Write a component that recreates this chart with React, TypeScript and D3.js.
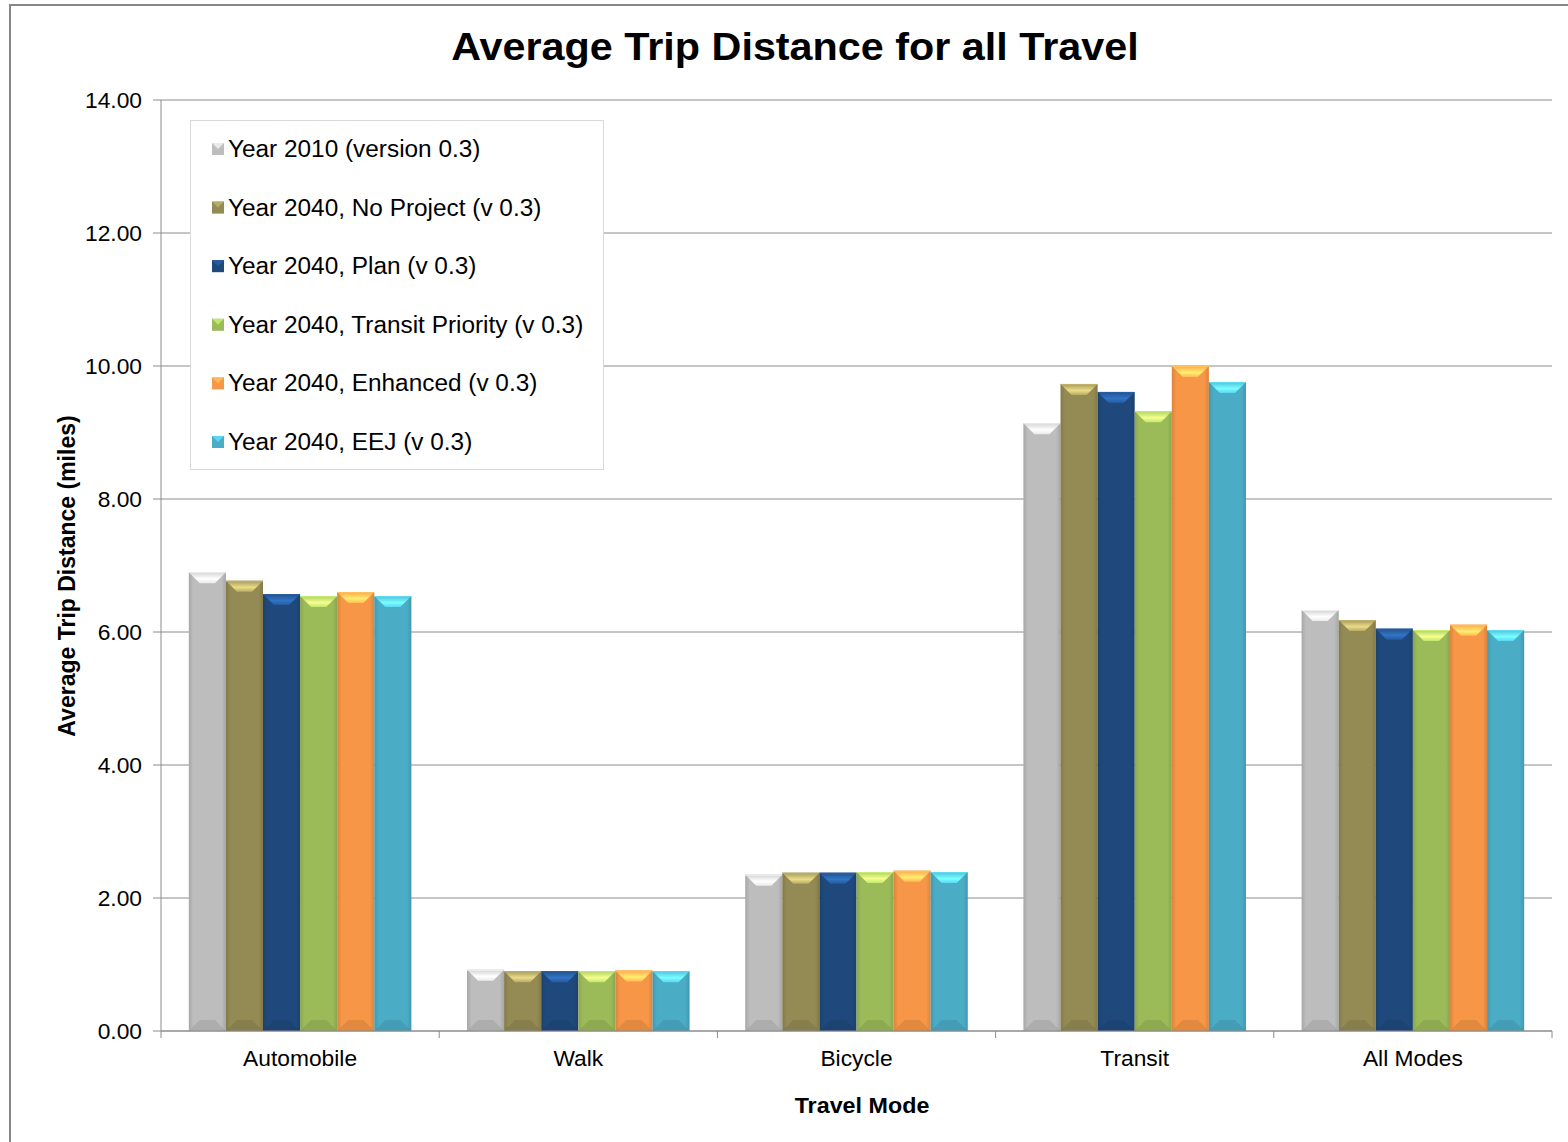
import React from 'react'
import * as d3 from 'd3'

const categories = ['Automobile', 'Walk', 'Bicycle', 'Transit', 'All Modes']
const seriesNames = [
  'Year 2010 (version 0.3)',
  'Year 2040, No Project (v 0.3)',
  'Year 2040, Plan (v 0.3)',
  'Year 2040, Transit Priority (v 0.3)',
  'Year 2040, Enhanced (v 0.3)',
  'Year 2040, EEJ (v 0.3)',
]
const seriesColors = ['#BDBDBD', '#948A54', '#1F497D', '#9BBB59', '#F79646', '#4BACC6']

// one array per scenario, in category order
const year2010 = [6.9, 0.92, 2.35, 9.14, 6.33]
const noProject = [6.77, 0.9, 2.38, 9.73, 6.18]
const plan = [6.57, 0.9, 2.38, 9.61, 6.05]
const transitPriority = [6.54, 0.9, 2.39, 9.32, 6.03]
const enhanced = [6.6, 0.91, 2.41, 10.0, 6.11]
const eej = [6.54, 0.9, 2.39, 9.76, 6.03]
const seriesValues = [year2010, noProject, plan, transitPriority, enhanced, eej]

const yTicks = [0, 2, 4, 6, 8, 10, 12, 14]

const W = 1568
const H = 1142
const left = 161
const right = 1552
const top = 100
const bottom = 1031
const font = 'Liberation Sans, Arial, sans-serif'
const SX = 1.06 // the source text is a little wider than Arial

// text that is stretched a bit horizontally
function T({ x, y, size, anchor = 'start', bold = false, children }: any) {
  return (
    <text
      transform={`translate(${x},${y}) scale(${SX},1)`}
      textAnchor={anchor}
      fontSize={size}
      fontWeight={bold ? 'bold' : 'normal'}
      fill="#000"
    >
      {children}
    </text>
  )
}

function Bar({ x, y, w, h, color, id }: { x: number; y: number; w: number; h: number; color: string; id: string }) {
  const b = Math.min(11, h / 2)
  const c = d3.color(color)!
  const light = c.brighter(0.9).formatHex()
  const dark = c.darker(0.6).formatHex()
  return (
    <g>
      <rect x={x} y={y} width={w} height={h} fill={`url(#side-${id})`} />
      {/* top chamfer */}
      <polygon
        points={`${x},${y} ${x + w},${y} ${x + w - b},${y + b} ${x + b},${y + b}`}
        fill={`url(#topg-${id})`}
      />
      {/* bottom chamfer */}
      <polygon
        points={`${x},${y + h} ${x + w},${y + h} ${x + w - b},${y + h - b} ${x + b},${y + h - b}`}
        fill={dark}
        opacity={0.45}
      />
      <line x1={x} x2={x + w} y1={y + 0.5} y2={y + 0.5} stroke={light} strokeOpacity={0.6} />
    </g>
  )
}

export default function App() {
  const x0 = d3.scaleBand<string>().domain(categories).range([left, right])
  const x1 = d3
    .scaleBand<number>()
    .domain(d3.range(seriesNames.length))
    .range([0, x0.bandwidth()])
    .paddingInner(0)
    .paddingOuter(0.75)
  const y = d3.scaleLinear().domain([0, 14]).range([bottom, top])

  const legendRowY = (i: number) => 149 + i * 58.6

  return (
    <svg
      width={W}
      height={H}
      style={{ position: 'absolute', left: 0, top: 0, background: '#fff' }}
      fontFamily={font}
    >
      <defs>
        {seriesColors.map((col, i) => {
          const c = d3.color(col)!
          return (
            <g key={i}>
              <linearGradient id={`side-${i}`} x1="0" x2="1" y1="0" y2="0">
                <stop offset="0" stopColor={c.darker(0.35).formatHex()} />
                <stop offset="0.12" stopColor={col} />
                <stop offset="0.88" stopColor={col} />
                <stop offset="1" stopColor={c.darker(0.35).formatHex()} />
              </linearGradient>
              <linearGradient id={`topg-${i}`} x1="0" x2="0" y1="0" y2="1">
                <stop offset="0" stopColor={c.brighter(0.3).formatHex()} />
                <stop offset="0.6" stopColor={c.brighter(1.3).formatHex()} />
                <stop offset="1" stopColor={c.brighter(0.6).formatHex()} />
              </linearGradient>
            </g>
          )
        })}
      </defs>

      {/* outer frame */}
      <rect x={10} y={5} width={W} height={H + 20} fill="none" stroke="#878787" strokeWidth={2} />

      <T x={795} y={60} size={39} anchor="middle" bold>
        Average Trip Distance for all Travel
      </T>

      {/* gridlines */}
      {yTicks.map((t) => (
        <g key={t}>
          <line x1={left} x2={right} y1={y(t)} y2={y(t)} stroke="#8c8c8c" strokeWidth={1} />
          <line x1={left - 8} x2={left} y1={y(t)} y2={y(t)} stroke="#8c8c8c" />
          <T x={left - 19} y={y(t) + 8} size={21.5} anchor="end">
            {t.toFixed(2)}
          </T>
        </g>
      ))}
      <line x1={left} x2={left} y1={top} y2={bottom} stroke="#8c8c8c" />

      {/* bars */}
      {categories.map((cat, ci) => (
        <g key={cat}>
          {seriesValues.map((vals, si) => (
            <Bar
              key={si}
              id={String(si)}
              x={x0(cat)! + x1(si)!}
              y={y(vals[ci])}
              w={x1.bandwidth()}
              h={bottom - y(vals[ci])}
              color={seriesColors[si]}
            />
          ))}
        </g>
      ))}

      {/* x axis */}
      <line x1={left} x2={right} y1={bottom} y2={bottom} stroke="#8c8c8c" />
      {categories.concat(['']).map((_, i) => {
        const xx = left + i * x0.step()
        return <line key={i} x1={xx} x2={xx} y1={bottom} y2={bottom + 7} stroke="#8c8c8c" />
      })}
      {categories.map((cat) => (
        <T key={cat} x={x0(cat)! + x0.bandwidth() / 2} y={1066} size={21.5} anchor="middle">
          {cat}
        </T>
      ))}

      <T x={862} y={1113} size={22} anchor="middle" bold>
        Travel Mode
      </T>
      <text
        transform={`translate(75, 576) rotate(-90)`}
        textAnchor="middle"
        fontSize={23}
        fontWeight="bold"
        fill="#000"
      >
        Average Trip Distance (miles)
      </text>

      {/* legend */}
      <rect x={190.5} y={120.5} width={413} height={349} fill="#fff" stroke="#d9d9d9" />
      {seriesNames.map((name, i) => (
        <g key={name}>
          <rect x={212} y={legendRowY(i) - 6} width={12} height={12} fill={seriesColors[i]} />
          <polygon
            points={`${212},${legendRowY(i) - 6} ${224},${legendRowY(i) - 6} ${218},${legendRowY(i)}`}
            fill={d3.color(seriesColors[i])!.brighter(0.6).formatHex()}
          />
          <T x={228} y={legendRowY(i) + 8} size={23}>
            {name}
          </T>
        </g>
      ))}
    </svg>
  )
}
